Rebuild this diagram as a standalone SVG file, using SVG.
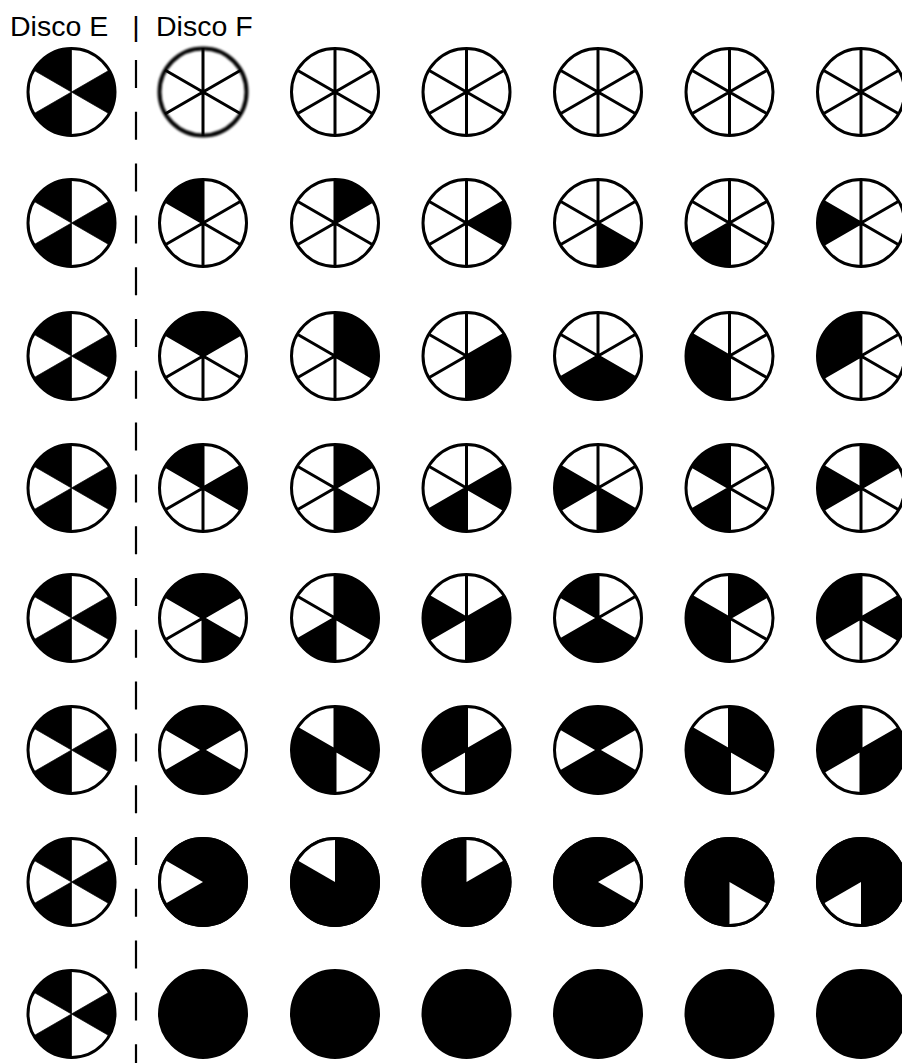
<svg xmlns="http://www.w3.org/2000/svg" xmlns:xlink="http://www.w3.org/1999/xlink" width="902" height="1063" viewBox="0 0 902 1063">
<style>
.bg{fill:#fff;stroke:none}
.rim{fill:none;stroke:#000;stroke-width:3}
.b{fill:#000;stroke:#000;stroke-width:0.7;stroke-linejoin:round}
.w{fill:#fff;stroke:none}
.sp{fill:none;stroke:#000;stroke-width:3}
.full{fill:#000;stroke:#000;stroke-width:3}
.lbl{font-family:"Liberation Sans",Arial,sans-serif;font-size:28.5px;fill:#000}
.dash{stroke:#000;stroke-width:2.2;stroke-dasharray:28 23.8;fill:none}
</style>
<defs>
<filter id="soft" x="-20%" y="-20%" width="140%" height="140%"><feGaussianBlur stdDeviation="0.9"/></filter>
<path id="s1" d="M0,0 L0,-44 A44,44 0 0 1 38.105,-22 Z"/>
<path id="s2" d="M0,0 L38.105,-22 A44,44 0 0 1 38.105,22 Z"/>
<path id="s3" d="M0,0 L38.105,22 A44,44 0 0 1 0,44 Z"/>
<path id="s4" d="M0,0 L0,44 A44,44 0 0 1 -38.105,22 Z"/>
<path id="s5" d="M0,0 L-38.105,22 A44,44 0 0 1 -38.105,-22 Z"/>
<path id="s6" d="M0,0 L-38.105,-22 A44,44 0 0 1 0,-44 Z"/>
<path id="spk" class="sp" d="M0,-44 L0,44 M38.105,-22 L-38.105,22 M38.105,22 L-38.105,-22"/>
<circle id="bgc" class="bg" r="43.5"/>
<circle id="rimc" class="rim" r="43.5"/>
<circle id="fullc" class="full" r="43.5"/>
<g id="discoE"><use href="#bgc"/><use class="b" href="#s2"/><use class="b" href="#s4"/><use class="b" href="#s6"/><use href="#rimc"/></g>
</defs>

<g id="labels">
<text class="lbl" x="10" y="36">Disco E</text>
<text class="lbl" x="136" y="36" text-anchor="middle">|</text>
<text class="lbl" x="156" y="36">Disco F</text>
</g>

<g id="connectors">
<line class="dash" x1="136" y1="60" x2="136" y2="1063"/>
</g>

<!-- Disco E column -->
<g id="E1" transform="translate(71.5,92)"><use href="#discoE"/></g>
<g id="E2" transform="translate(71.5,223)"><use href="#discoE"/></g>
<g id="E3" transform="translate(71.5,356)"><use href="#discoE"/></g>
<g id="E4" transform="translate(71.5,488)"><use href="#discoE"/></g>
<g id="E5" transform="translate(71.5,618)"><use href="#discoE"/></g>
<g id="E6" transform="translate(71.5,750)"><use href="#discoE"/></g>
<g id="E7" transform="translate(71.5,882)"><use href="#discoE"/></g>
<g id="E8" transform="translate(71.5,1014)"><use href="#discoE"/></g>

<!-- Row 1 -->
<g id="F1-1" transform="translate(203,92)"><use href="#bgc"/><use href="#spk"/><circle r="43.5" fill="none" stroke="#000" stroke-width="4" filter="url(#soft)"/></g>
<g id="F1-2" transform="translate(335,92)"><use href="#bgc"/><use href="#spk"/><use href="#rimc"/></g>
<g id="F1-3" transform="translate(466.5,92)"><use href="#bgc"/><use href="#spk"/><use href="#rimc"/></g>
<g id="F1-4" transform="translate(598,92)"><use href="#bgc"/><use href="#spk"/><use href="#rimc"/></g>
<g id="F1-5" transform="translate(729.5,92)"><use href="#bgc"/><use href="#spk"/><use href="#rimc"/></g>
<g id="F1-6" transform="translate(861,92)"><use href="#bgc"/><use href="#spk"/><use href="#rimc"/></g>

<!-- Row 2 -->
<g id="F2-1" transform="translate(203,223)"><use href="#bgc"/><use href="#spk"/><use class="b" href="#s6"/><use href="#rimc"/></g>
<g id="F2-2" transform="translate(335,223)"><use href="#bgc"/><use href="#spk"/><use class="b" href="#s1"/><use href="#rimc"/></g>
<g id="F2-3" transform="translate(466.5,223)"><use href="#bgc"/><use href="#spk"/><use class="b" href="#s2"/><use href="#rimc"/></g>
<g id="F2-4" transform="translate(598,223)"><use href="#bgc"/><use href="#spk"/><use class="b" href="#s3"/><use href="#rimc"/></g>
<g id="F2-5" transform="translate(729.5,223)"><use href="#bgc"/><use href="#spk"/><use class="b" href="#s4"/><use href="#rimc"/></g>
<g id="F2-6" transform="translate(861,223)"><use href="#bgc"/><use href="#spk"/><use class="b" href="#s5"/><use href="#rimc"/></g>

<!-- Row 3 -->
<g id="F3-1" transform="translate(203,356)"><use href="#bgc"/><use href="#spk"/><use class="b" href="#s6"/><use class="b" href="#s1"/><use href="#rimc"/></g>
<g id="F3-2" transform="translate(335,356)"><use href="#bgc"/><use href="#spk"/><use class="b" href="#s1"/><use class="b" href="#s2"/><use href="#rimc"/></g>
<g id="F3-3" transform="translate(466.5,356)"><use href="#bgc"/><use href="#spk"/><use class="b" href="#s2"/><use class="b" href="#s3"/><use href="#rimc"/></g>
<g id="F3-4" transform="translate(598,356)"><use href="#bgc"/><use href="#spk"/><use class="b" href="#s3"/><use class="b" href="#s4"/><use href="#rimc"/></g>
<g id="F3-5" transform="translate(729.5,356)"><use href="#bgc"/><use href="#spk"/><use class="b" href="#s4"/><use class="b" href="#s5"/><use href="#rimc"/></g>
<g id="F3-6" transform="translate(861,356)"><use href="#bgc"/><use href="#spk"/><use class="b" href="#s5"/><use class="b" href="#s6"/><use href="#rimc"/></g>

<!-- Row 4 -->
<g id="F4-1" transform="translate(203,488)"><use href="#bgc"/><use href="#spk"/><use class="b" href="#s6"/><use class="b" href="#s2"/><use href="#rimc"/></g>
<g id="F4-2" transform="translate(335,488)"><use href="#bgc"/><use href="#spk"/><use class="b" href="#s1"/><use class="b" href="#s3"/><use href="#rimc"/></g>
<g id="F4-3" transform="translate(466.5,488)"><use href="#bgc"/><use href="#spk"/><use class="b" href="#s2"/><use class="b" href="#s4"/><use href="#rimc"/></g>
<g id="F4-4" transform="translate(598,488)"><use href="#bgc"/><use href="#spk"/><use class="b" href="#s3"/><use class="b" href="#s5"/><use href="#rimc"/></g>
<g id="F4-5" transform="translate(729.5,488)"><use href="#bgc"/><use href="#spk"/><use class="b" href="#s4"/><use class="b" href="#s6"/><use href="#rimc"/></g>
<g id="F4-6" transform="translate(861,488)"><use href="#bgc"/><use href="#spk"/><use class="b" href="#s5"/><use class="b" href="#s1"/><use href="#rimc"/></g>

<!-- Row 5 -->
<g id="F5-1" transform="translate(203,618)"><use href="#bgc"/><use href="#spk"/><use class="b" href="#s6"/><use class="b" href="#s1"/><use class="b" href="#s3"/><use href="#rimc"/></g>
<g id="F5-2" transform="translate(335,618)"><use href="#bgc"/><use href="#spk"/><use class="b" href="#s1"/><use class="b" href="#s2"/><use class="b" href="#s4"/><use href="#rimc"/></g>
<g id="F5-3" transform="translate(466.5,618)"><use href="#bgc"/><use href="#spk"/><use class="b" href="#s2"/><use class="b" href="#s3"/><use class="b" href="#s5"/><use href="#rimc"/></g>
<g id="F5-4" transform="translate(598,618)"><use href="#bgc"/><use href="#spk"/><use class="b" href="#s3"/><use class="b" href="#s4"/><use class="b" href="#s6"/><use href="#rimc"/></g>
<g id="F5-5" transform="translate(729.5,618)"><use href="#bgc"/><use href="#spk"/><use class="b" href="#s4"/><use class="b" href="#s5"/><use class="b" href="#s1"/><use href="#rimc"/></g>
<g id="F5-6" transform="translate(861,618)"><use href="#bgc"/><use href="#spk"/><use class="b" href="#s5"/><use class="b" href="#s6"/><use class="b" href="#s2"/><use href="#rimc"/></g>

<!-- Row 6 -->
<g id="F6-1" transform="translate(203,750)"><use href="#bgc"/><use href="#spk"/><use class="b" href="#s6"/><use class="b" href="#s1"/><use class="b" href="#s3"/><use class="b" href="#s4"/><use href="#rimc"/></g>
<g id="F6-2" transform="translate(335,750)"><use href="#bgc"/><use href="#spk"/><use class="b" href="#s1"/><use class="b" href="#s2"/><use class="b" href="#s4"/><use class="b" href="#s5"/><use href="#rimc"/></g>
<g id="F6-3" transform="translate(466.5,750)"><use href="#bgc"/><use href="#spk"/><use class="b" href="#s2"/><use class="b" href="#s3"/><use class="b" href="#s5"/><use class="b" href="#s6"/><use href="#rimc"/></g>
<g id="F6-4" transform="translate(598,750)"><use href="#bgc"/><use href="#spk"/><use class="b" href="#s3"/><use class="b" href="#s4"/><use class="b" href="#s6"/><use class="b" href="#s1"/><use href="#rimc"/></g>
<g id="F6-5" transform="translate(729.5,750)"><use href="#bgc"/><use href="#spk"/><use class="b" href="#s4"/><use class="b" href="#s5"/><use class="b" href="#s1"/><use class="b" href="#s2"/><use href="#rimc"/></g>
<g id="F6-6" transform="translate(861,750)"><use href="#bgc"/><use href="#spk"/><use class="b" href="#s5"/><use class="b" href="#s6"/><use class="b" href="#s2"/><use class="b" href="#s3"/><use href="#rimc"/></g>

<!-- Row 7 -->
<g id="F7-1" transform="translate(203,882)"><use href="#fullc"/><use class="w" href="#s5"/><use href="#rimc"/></g>
<g id="F7-2" transform="translate(335,882)"><use href="#fullc"/><use class="w" href="#s6"/><use href="#rimc"/></g>
<g id="F7-3" transform="translate(466.5,882)"><use href="#fullc"/><use class="w" href="#s1"/><use href="#rimc"/></g>
<g id="F7-4" transform="translate(598,882)"><use href="#fullc"/><use class="w" href="#s2"/><use href="#rimc"/></g>
<g id="F7-5" transform="translate(729.5,882)"><use href="#fullc"/><use class="w" href="#s3"/><use href="#rimc"/></g>
<g id="F7-6" transform="translate(861,882)"><use href="#fullc"/><use class="w" href="#s4"/><use href="#rimc"/></g>

<!-- Row 8 -->
<g id="F8-1" transform="translate(203,1014)"><use href="#fullc"/></g>
<g id="F8-2" transform="translate(335,1014)"><use href="#fullc"/></g>
<g id="F8-3" transform="translate(466.5,1014)"><use href="#fullc"/></g>
<g id="F8-4" transform="translate(598,1014)"><use href="#fullc"/></g>
<g id="F8-5" transform="translate(729.5,1014)"><use href="#fullc"/></g>
<g id="F8-6" transform="translate(861,1014)"><use href="#fullc"/></g>
</svg>
